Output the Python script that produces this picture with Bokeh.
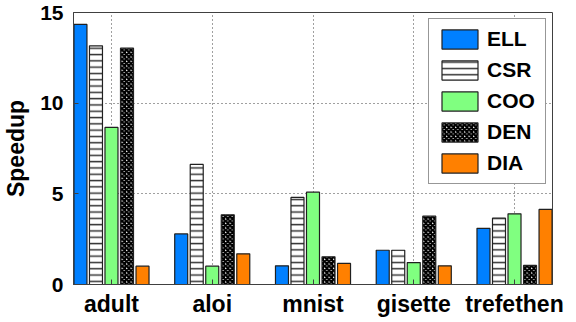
from bokeh.plotting import figure
from bokeh.models import ColumnDataSource, FactorRange, Range1d, FixedTicker, Legend, LegendItem
from bokeh.transform import dodge
from bokeh.embed import file_html
from bokeh.resources import INLINE

datasets = ["adult", "aloi", "mnist", "gisette", "trefethen"]
formats = ["ELL", "CSR", "COO", "DEN", "DIA"]
ell = [14.34, 2.79, 1.03, 1.89, 3.10]
csr = [13.16, 6.62, 4.80, 1.89, 3.66]
coo = [8.66, 1.01, 5.09, 1.21, 3.90]
den = [13.03, 3.84, 1.53, 3.77, 1.05]
dia = [1.01, 1.69, 1.16, 1.03, 4.14]
y_ticks = [0, 5, 10, 15]

src = ColumnDataSource(dict(ds=datasets, ELL=ell, CSR=csr, COO=coo, DEN=den, DIA=dia))

FONT = "Liberation Sans"
W, H = 576, 322
p = figure(width=W, height=H, output_backend="svg", toolbar_location=None,
           x_range=FactorRange(*datasets, range_padding=-0.0492, range_padding_units="percent"),
           y_range=Range1d(0, 15),
           min_border_left=73, min_border_right=24, min_border_top=12, min_border_bottom=38)
p.background_fill_color = "white"
p.border_fill_color = "white"
p.outline_line_color = "#404040"
p.outline_line_width = 1

styles = {
    "ELL": dict(fill_color="#0080FF"),
    "CSR": dict(fill_color="white", hatch_pattern="horizontal_line", hatch_color="#333333",
                hatch_weight=1.5, hatch_scale=6.3),
    "COO": dict(fill_color="#80FF80"),
    "DEN": dict(fill_color="white", hatch_pattern="diagonal_cross", hatch_color="black",
                hatch_weight=2.5, hatch_scale=4.5),
    "DIA": dict(fill_color="#FF8000"),
}
offsets = [-0.308, -0.154, 0.0, 0.154, 0.308]
items = []
for f, off in zip(formats, offsets):
    r = p.vbar(x=dodge("ds", off, range=p.x_range), top=f, width=0.129, source=src,
               line_color="#202020", line_width=1.2, **styles[f])
    items.append(LegendItem(label=f, renderers=[r]))

leg = Legend(items=items, location="top_right", margin=6, padding=8, spacing=7,
             glyph_width=45, glyph_height=24, label_standoff=5, label_width=50,
             label_text_font=FONT, label_text_font_style="bold", label_text_font_size="21px",
             label_text_color="black", border_line_color="#303030", border_line_width=1,
             background_fill_alpha=1.0, label_height=24)
p.add_layout(leg)

for g in (p.xgrid, p.ygrid):
    g.grid_line_color = "#404040"
    g.grid_line_dash = "1 3"
    g.grid_line_width = 1
p.ygrid.ticker = FixedTicker(ticks=y_ticks)

ya = p.yaxis[0]
ya.ticker = FixedTicker(ticks=y_ticks)
ya.axis_label = "Speedup"
ya.axis_label_text_font = FONT
ya.axis_label_text_font_style = "bold"
ya.axis_label_text_font_size = "23px"
ya.axis_label_text_color = "black"
ya.axis_label_standoff = 8
ya.major_label_text_font = FONT
ya.major_label_text_font_style = "bold"
ya.major_label_text_font_size = "21px"
ya.major_label_text_color = "black"
ya.major_label_standoff = 10
ya.major_tick_in = 5
ya.major_tick_out = 0
ya.minor_tick_in = 0
ya.minor_tick_out = 0
ya.axis_line_color = "#404040"
ya.major_tick_line_color = "#404040"

xa = p.xaxis[0]
xa.major_label_text_font = FONT
xa.major_label_text_font_style = "bold"
xa.major_label_text_font_size = "23px"
xa.major_label_text_color = "black"
xa.major_label_standoff = 6
xa.major_tick_in = 5
xa.major_tick_out = 0
xa.axis_line_color = "#404040"
xa.major_tick_line_color = "#404040"

open("out.html", "w").write(file_html(p, INLINE))
